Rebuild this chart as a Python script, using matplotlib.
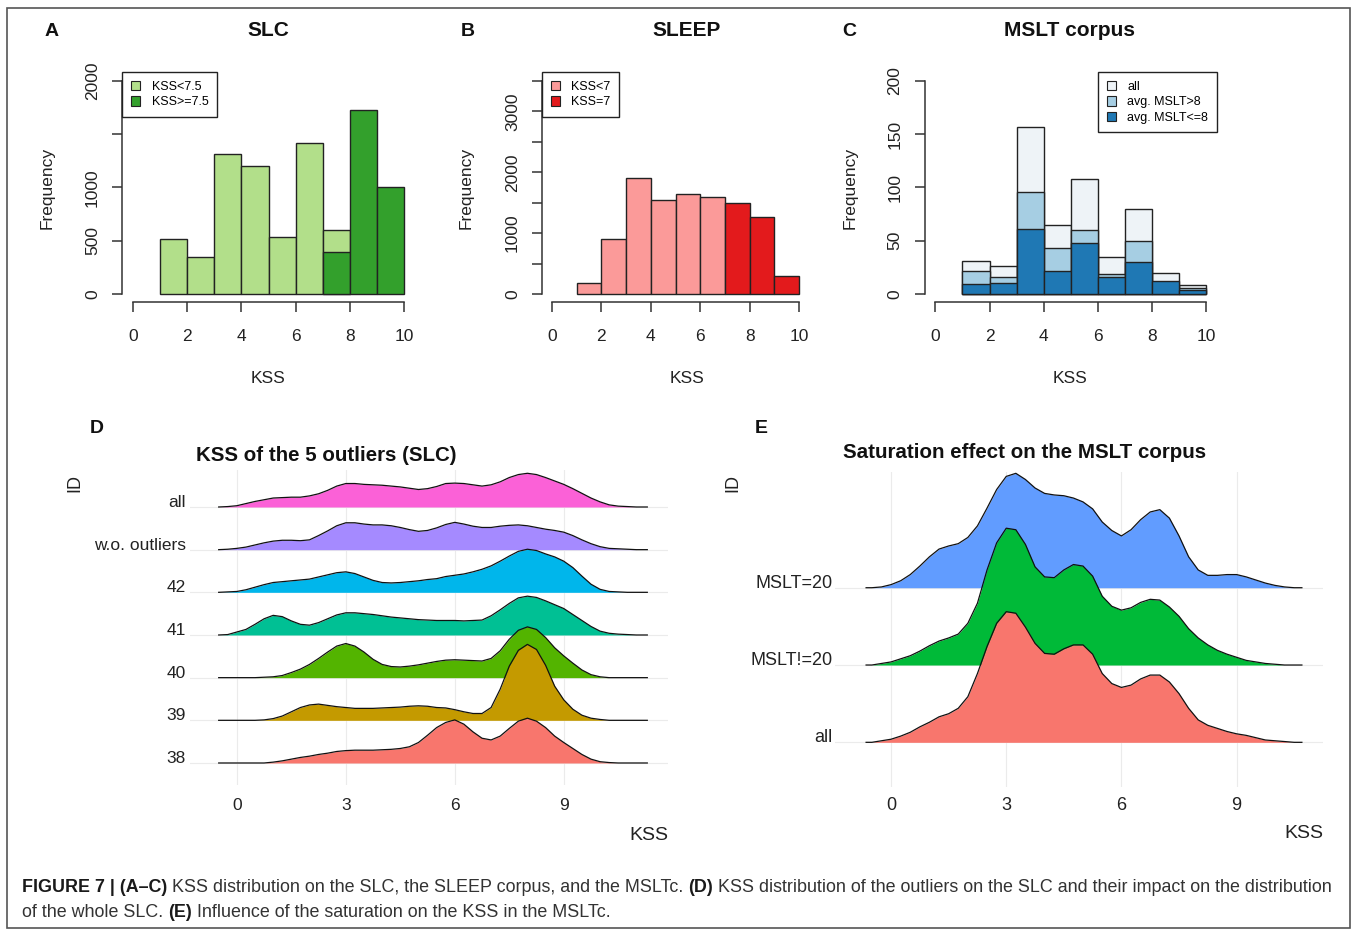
import numpy as np
import matplotlib
matplotlib.use("Agg")
import matplotlib.pyplot as plt
from matplotlib.patches import Rectangle

plt.rcParams['font.family'] = ['Liberation Sans', 'DejaVu Sans']

W, H = 1358, 930

# ---------------- data ----------------
# histogram bins (A-C): 1-2, 2-3, ..., 9-10
bin_left = [1, 2, 3, 4, 5, 6, 7, 8, 9]

# A: SLC
slc_low = [519, 344, 1317, 1198, 535, 1415, 604, 0, 0]      # KSS<7.5
slc_high = [0, 0, 0, 0, 0, 0, 391, 1728, 1008]              # KSS>=7.5

# B: SLEEP
sleep_low = [181, 910, 1902, 1540, 1650, 1590, 0, 0, 0]     # KSS<7
sleep_high = [0, 0, 0, 0, 0, 0, 1502, 1267, 290]            # KSS=7

# C: MSLT corpus
mslt_all = [31, 26, 157, 65, 108, 35, 80, 20, 8]
mslt_gt8 = [22, 16, 96, 43, 60, 19, 50, 8, 6]
mslt_le8 = [9, 10, 61, 22, 48, 16, 30, 12, 4]

# D: ridge densities of KSS (SLC), read every 0.25 from -0.5 to 11, then 11.3
kss_d = list(np.arange(-0.5, 11.01, 0.25)) + [11.3]
d_ids = ['38', '39', '40', '41', '42', 'w.o. outliers', 'all']
d_dens = {
    '38': [0, 0, 0, 0, 0, 0, .02, .05, .09, .13, .16, .20, .23, .27, .29, .30,
           .30, .30, .31, .32, .34, .38, .48, .65, .83, .95, 1.01, .91, .73, .58,
           .54, .63, .81, .98, 1.05, .98, .83, .63, .48, .34, .20, .09, .03, .01,
           0, 0, 0, 0],
    '39': [0, 0, 0, 0, 0, .01, .04, .10, .20, .30, .36, .38, .35, .32, .30, .28,
           .28, .28, .29, .30, .31, .33, .34, .33, .30, .29, .25, .20, .16, .16,
           .30, .73, 1.27, 1.64, 1.78, 1.66, 1.29, .80, .48, .26, .12, .05, .02, 0,
           0, 0, 0, 0],
    '40': [0, 0, 0, 0, 0, .01, .02, .05, .12, .20, .31, .45, .60, .74, .80, .74,
           .60, .43, .31, .26, .25, .27, .30, .34, .38, .41, .42, .41, .40, .39,
           .45, .63, .90, 1.11, 1.19, 1.13, .94, .70, .51, .34, .18, .07, .02, 0,
           0, 0, 0, 0],
    '41': [0, .01, .07, .13, .25, .38, .46, .43, .33, .25, .23, .29, .38, .47, .52,
           .52, .50, .48, .45, .42, .40, .38, .36, .35, .34, .34, .34, .33, .34,
           .35, .45, .59, .74, .87, .91, .88, .80, .71, .62, .48, .34, .20, .09,
           .04, .02, .01, 0, 0],
    '42': [0, .01, .02, .06, .12, .18, .23, .25, .27, .29, .31, .36, .41, .46, .48,
           .44, .36, .28, .23, .22, .23, .25, .27, .30, .32, .37, .40, .43, .48,
           .54, .62, .73, .85, .96, 1.01, .98, .90, .83, .73, .58, .38, .19, .07,
           .02, .01, 0, 0, 0],
    'w.o. outliers': [0, .01, .03, .06, .11, .16, .20, .22, .22, .21, .23, .33, .44,
                      .56, .63, .63, .60, .58, .58, .56, .52, .47, .43, .45, .51,
                      .59, .64, .60, .55, .52, .52, .55, .57, .58, .56, .52, .48,
                      .45, .41, .33, .23, .14, .07, .03, .02, .01, 0, 0],
    'all': [0, .01, .03, .08, .13, .17, .21, .22, .23, .23, .26, .31, .39, .49, .55,
            .55, .53, .52, .51, .49, .47, .44, .41, .43, .48, .55, .56, .55, .52,
            .49, .52, .59, .69, .76, .79, .76, .69, .61, .53, .43, .32, .21, .12,
            .05, .02, .01, 0, 0],
}
d_colors = ['#F8766D', '#C49A00', '#53B400', '#00C094', '#00B6EB', '#A58AFF', '#FB61D7']

# E: ridge densities of KSS (MSLT corpus), -0.65, then every 0.25 from -0.5 to 10.5, then 10.7
kss_e = [-0.65] + list(np.arange(-0.5, 10.51, 0.25)) + [10.7]
e_ids = ['all', 'MSLT!=20', 'MSLT=20']
e_dens = {
    'all': [0, 0, .02, .04, .08, .13, .20, .26, .33, .37, .44, .59, .89, 1.24, 1.54,
            1.69, 1.67, 1.49, 1.28, 1.15, 1.14, 1.21, 1.26, 1.26, 1.14, .89, .76,
            .71, .74, .82, .87, .87, .78, .63, .44, .29, .22, .18, .14, .11, .09,
            .06, .03, .02, .01, 0, 0],
    'MSLT!=20': [0, 0, .02, .04, .08, .12, .18, .25, .31, .35, .40, .54, .80, 1.23,
                 1.58, 1.77, 1.75, 1.56, 1.27, 1.14, 1.13, 1.23, 1.30, 1.28, 1.15,
                 .89, .76, .71, .74, .81, .85, .84, .75, .63, .47, .35, .26, .19,
                 .14, .10, .06, .04, .02, .01, 0, 0, 0],
    'MSLT=20': [0, 0, .01, .04, .09, .17, .28, .40, .50, .54, .57, .65, .80, 1.03,
                1.27, 1.44, 1.48, 1.40, 1.29, 1.22, 1.20, 1.19, 1.16, 1.11, 1.02,
                .85, .74, .67, .75, .88, .98, 1.01, .90, .67, .40, .23, .16, .16,
                .17, .17, .14, .10, .06, .03, .01, 0, 0],
}
e_colors = ['#F8766D', '#00BA38', '#619CFF']

# ---------------- figure ----------------
fig = plt.figure(figsize=(W / 100, H / 100), dpi=100)


def box(l, t, r, b):
    return [l / W, 1 - b / H, (r - l) / W, (b - t) / H]


def ftext(x, y, s, **kw):
    return fig.text(x / W, 1 - y / H, s, **kw)


fig.add_artist(Rectangle((7 / W, 1 - 928 / H), 1343 / W, 920 / H, transform=fig.transFigure,
                         fill=False, edgecolor='#555555', lw=1.2))

ink = '#222222'


def r_hist(ax, ymax, yticks, ylabels):
    ax.set_xlim(-0.4, 10.4)
    ax.set_ylim(-0.04 * ymax, 1.04 * ymax)
    for s in ['top', 'right']:
        ax.spines[s].set_visible(False)
    ax.spines['bottom'].set_bounds(0, 10)
    ax.spines['left'].set_bounds(0, ymax)
    for s in ['bottom', 'left']:
        ax.spines[s].set_color('#333333')
        ax.spines[s].set_linewidth(1.1)
    ax.set_xticks([0, 2, 4, 6, 8, 10])
    ax.set_yticks(yticks)
    ax.set_yticklabels(ylabels)
    ax.tick_params(direction='out', length=7, width=1.1, color='#333333',
                   labelsize=12.5, labelcolor=ink, pad=9)
    ax.tick_params(axis='x', pad=12)
    ax.tick_params(axis='y', labelrotation=90)
    for lab in ax.get_yticklabels():
        lab.set_va('center')
    ax.patch.set_alpha(0)


def bars(ax, counts, color):
    for x, c in zip(bin_left, counts):
        if c > 0:
            ax.bar(x, c, width=1, align='edge', color=color, edgecolor='#222222', lw=1.0)


def r_legend(ax, labels, colors, loc, anchor):
    handles = [Rectangle((0, 0), 1, 1, facecolor=c, edgecolor='#222222', lw=0.8) for c in colors]
    leg = ax.legend(handles, labels, loc=loc, bbox_to_anchor=anchor, fontsize=9,
                    handlelength=0.75, handleheight=0.75, labelspacing=0.25,
                    handletextpad=0.9, borderpad=0.7, borderaxespad=0, fancybox=False,
                    framealpha=1, edgecolor='#222222')
    leg.get_frame().set_linewidth(1.0)


# A
axA = fig.add_axes(box(122.2, 72.5, 414.8, 302.5))
bars(axA, slc_low, '#B2DF8A')
bars(axA, slc_high, '#33A02C')
r_hist(axA, 2000, [0, 500, 1000, 1500, 2000], ['0', '500', '1000', '', '2000'])
r_legend(axA, ['KSS<7.5', 'KSS>=7.5'], ['#B2DF8A', '#33A02C'], 'upper left', (0, 1))

# B
axB = fig.add_axes(box(542.1, 72.5, 808.9, 302.5))
bars(axB, sleep_low, '#FB9A99')
bars(axB, sleep_high, '#E31A1C')
r_hist(axB, 3500, list(range(0, 3501, 500)), ['0', '', '1000', '', '2000', '', '3000', ''])
r_legend(axB, ['KSS<7', 'KSS=7'], ['#FB9A99', '#E31A1C'], 'upper left', (0, 1))

# C
axC = fig.add_axes(box(924.5, 72.5, 1217.1, 302.5))
bars(axC, mslt_all, '#EEF3F7')
bars(axC, mslt_gt8, '#A6CEE3')
bars(axC, mslt_le8, '#1F78B4')
r_hist(axC, 200, [0, 50, 100, 150, 200], ['0', '50', '100', '150', '200'])
r_legend(axC, ['all', 'avg. MSLT>8', 'avg. MSLT<=8'], ['#EEF3F7', '#A6CEE3', '#1F78B4'],
         'upper right', (1, 1))

for x, title in [(268.5, 'SLC'), (687, 'SLEEP'), (1070, 'MSLT corpus')]:
    ftext(x, 30, title, ha='center', va='center', fontsize=15, fontweight='bold', color='#111111')
for x, letter in [(52, 'A'), (468, 'B'), (849, 'C')]:
    ftext(x, 32, letter, ha='center', va='center', fontsize=14, fontweight='bold', color='#111111')
for x in [268.5, 687, 1070]:
    ftext(x, 378, 'KSS', ha='center', va='center', fontsize=12.5, color=ink)
for x in [47, 466, 850]:
    ftext(x, 188, 'Frequency', ha='center', va='center', rotation=90, fontsize=12.5, color=ink)


# ---------------- ridgeline panels ----------------
def ridges(ax, grid, ids, dens, colors, xlim, ylim, lsize, xpad, ypad):
    ax.set_xlim(*xlim)
    ax.set_ylim(*ylim)
    for s in ax.spines.values():
        s.set_visible(False)
    rows = np.arange(1, len(ids) + 1)
    for xv in [0, 3, 6, 9]:
        ax.axvline(xv, color='#EBEBEB', lw=0.8, zorder=0)
    for r in rows:
        ax.axhline(r, color='#EBEBEB', lw=0.8, zorder=0)
    n = len(ids)
    for i in range(n - 1, -1, -1):
        y = rows[i] + np.array(dens[ids[i]])
        z = 2 + (n - i) * 2
        ax.fill_between(grid, rows[i], y, color=colors[i], lw=0, zorder=z)
        ax.plot(grid, y, color='#111111', lw=0.9, zorder=z + 1, solid_joinstyle='round')
    ax.set_xticks([0, 3, 6, 9])
    ax.set_yticks(rows)
    ax.set_yticklabels(ids)
    for lab in ax.get_yticklabels():
        lab.set_va('baseline')
    ax.tick_params(axis='x', length=0, labelsize=lsize, labelcolor=ink, pad=xpad)
    ax.tick_params(axis='y', length=0, labelsize=lsize, labelcolor=ink, pad=ypad)
    ax.patch.set_alpha(0)


axD = fig.add_axes(box(190, 470, 668, 785))
ridges(axD, kss_d, d_ids, d_dens, d_colors, (-1.29, 11.87), (0.484, 7.867), 12.5, 9, 3)
axE = fig.add_axes(box(835, 472, 1323, 787))
ridges(axE, kss_e, e_ids, e_dens, e_colors, (-1.46, 11.25), (0.422, 4.497), 13, 7, 1.5)

ftext(97, 428, 'D', ha='center', va='center', fontsize=14, fontweight='bold', color='#111111')
ftext(761, 428, 'E', ha='center', va='center', fontsize=14, fontweight='bold', color='#111111')
ftext(196, 455, 'KSS of the 5 outliers (SLC)', ha='left', va='center', fontsize=14.8,
      fontweight='bold', color='#111111')
ftext(843, 453, 'Saturation effect on the MSLT corpus', ha='left', va='center', fontsize=14.8,
      fontweight='bold', color='#111111')
ftext(668, 835, 'KSS', ha='right', va='center', fontsize=14, color=ink)
ftext(1323, 833, 'KSS', ha='right', va='center', fontsize=14, color=ink)
ftext(75, 483, 'ID', ha='center', va='center', rotation=90, fontsize=13, color=ink)
ftext(733, 483, 'ID', ha='center', va='center', rotation=90, fontsize=13, color=ink)

# ---------------- caption ----------------
renderer = fig.canvas.get_renderer()


def rich_line(pieces, x0, y, size):
    probe1 = ftext(0, 0, 'x x', fontsize=size)
    probe2 = ftext(0, 0, 'xx', fontsize=size)
    gap = probe1.get_window_extent(renderer).width - probe2.get_window_extent(renderer).width
    probe1.remove()
    probe2.remove()
    x = x0
    for txt, bold in pieces:
        t = ftext(x, y, txt, ha='left', va='center', fontsize=size,
                  fontweight='bold' if bold else 'normal', color='#1a1a1a' if bold else '#333333')
        x += t.get_window_extent(renderer).width + gap


cap1 = [('FIGURE 7 | (A–C)', True),
        ('KSS distribution on the SLC, the SLEEP corpus, and the MSLTc.', False),
        ('(D)', True),
        ('KSS distribution of the outliers on the SLC and their impact on the distribution', False)]
cap2 = [('of the whole SLC.', False), ('(E)', True),
        ('Influence of the saturation on the KSS in the MSLTc.', False)]
rich_line(cap1, 22, 887, 12.9)
rich_line(cap2, 22, 912, 12.9)

fig.savefig('out.png', dpi=100)
